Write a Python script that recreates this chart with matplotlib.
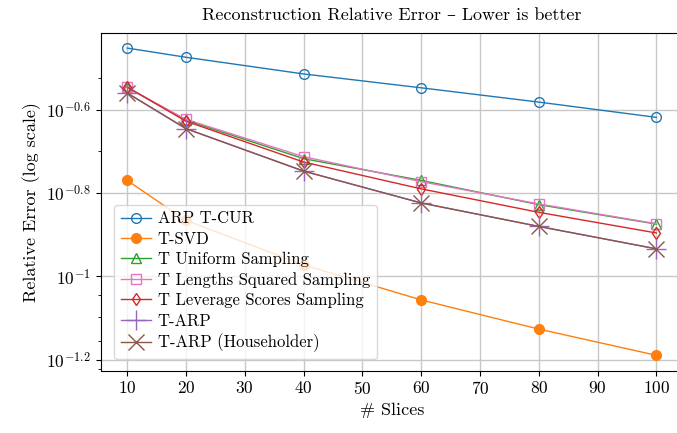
import matplotlib
matplotlib.use("Agg")
import matplotlib.pyplot as plt
from matplotlib.ticker import NullFormatter

plt.rcParams['font.family'] = ['cmr10', 'DejaVu Serif']
plt.rcParams['mathtext.fontset'] = 'cm'
plt.rcParams['axes.formatter.use_mathtext'] = True
plt.rcParams['axes.unicode_minus'] = False

# number of slices
slices = [10, 20, 40, 60, 80, 100]

# relative errors
arp_tcur = [0.3542, 0.3366, 0.3069, 0.2842, 0.2626, 0.2413]
t_svd = [0.1702, 0.1364, 0.1066, 0.0878, 0.0747, 0.0646]
t_uniform = [0.2847, 0.2375, 0.1920, 0.1702, 0.1488, 0.1336]
t_lengths = [0.2847, 0.2386, 0.1941, 0.1690, 0.1494, 0.1339]
t_leverage = [0.2855, 0.2362, 0.1884, 0.1624, 0.1426, 0.1272]
t_arp = [0.2762, 0.2267, 0.1792, 0.1502, 0.1319, 0.1165]
t_arp_house = [0.2762, 0.2267, 0.1792, 0.1502, 0.1319, 0.1165]

ytick_vals = [10 ** -0.6, 10 ** -0.8, 10 ** -1, 10 ** -1.2]
ytick_labels = [r'$10^{-0.6}$', r'$10^{-0.8}$', r'$10^{-1}$', r'$10^{-1.2}$']

fig = plt.figure(figsize=(6.77, 4.33), dpi=100)
ax = fig.add_axes([0.1487, 0.1439, 0.860, 0.7806])

ax.plot(slices, arp_tcur, marker='o', mfc='none', ms=7, color='tab:blue', lw=1, label='ARP T-CUR')
ax.plot(slices, t_svd, marker='o', ms=7, color='tab:orange', lw=1, label='T-SVD')
ax.plot(slices, t_uniform, marker='^', mfc='none', ms=7, color='tab:green', lw=1, label='T Uniform Sampling')
ax.plot(slices, t_lengths, marker='s', mfc='none', ms=7, color='tab:pink', lw=1, label='T Lengths Squared Sampling')
ax.plot(slices, t_leverage, marker='d', mfc='none', ms=6, color='tab:red', lw=1, label='T Leverage Scores Sampling')
ax.plot(slices, t_arp, marker='+', ms=14, color='tab:purple', lw=1, label='T-ARP')
ax.plot(slices, t_arp_house, marker='x', ms=12, color='tab:brown', lw=1, label='T-ARP (Householder)')

ax.set_yscale('log')
ax.set_yticks(ytick_vals)
ax.set_yticklabels(ytick_labels)
ax.yaxis.set_minor_formatter(NullFormatter())
ax.set_xticks(range(10, 101, 10))
ax.tick_params(labelsize=12.5)
ax.grid(True, which='major', color='#c8c8c8', lw=1)

ax.set_title('Reconstruction Relative Error \u2013 Lower is better', fontsize=13, pad=9)
ax.set_xlabel('# Slices', fontsize=13)
ax.set_ylabel('Relative Error (log scale)', fontsize=13)
ax.legend(loc='lower left', fontsize=12, bbox_to_anchor=(0.015, 0.02), borderaxespad=0.3,
          labelspacing=0.3, handlelength=1.8, handletextpad=0.4, edgecolor='#d0d0d0')

fig.savefig('out.png', dpi=100)
plt.close()
